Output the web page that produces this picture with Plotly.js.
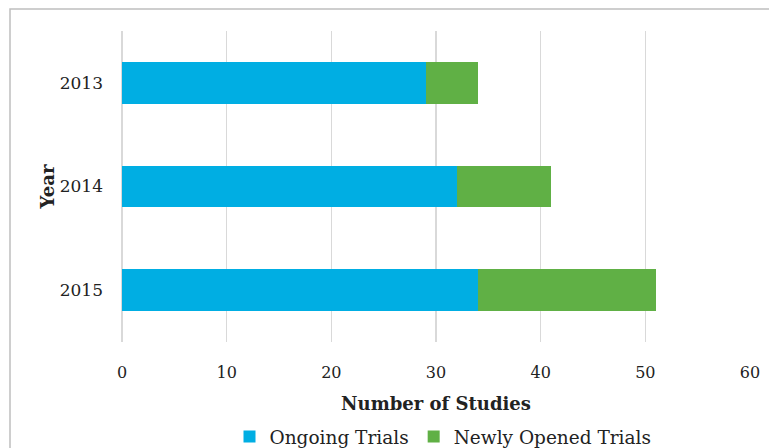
<!DOCTYPE html>
<html>
<head>
<meta charset="utf-8">
<script src="https://cdn.plot.ly/plotly-3.0.1.min.js"></script>
<style>
html,body{margin:0;padding:0;background:#fff;}
#chart{width:769px;height:448px;}
</style>
</head>
<body>
<div id="chart"></div>
<script>
var years = ["2013", "2014", "2015"];
var ongoing = [29, 32, 34];
var newlyOpened = [5, 9, 17];
var seriesNames = ["Ongoing Trials", "Newly Opened Trials"];
var xTicks = [0, 10, 20, 30, 40, 50, 60];

var font = "'DejaVu Serif', 'Liberation Serif', serif";

var traces = [
  {type: "bar", orientation: "h", name: seriesNames[0], y: years, x: ongoing,
   marker: {color: "#00AEE3", line: {width: 0}}, width: 0.4},
  {type: "bar", orientation: "h", name: seriesNames[1], y: years, x: newlyOpened,
   marker: {color: "#60B045", line: {width: 0}}, width: 0.4}
];

var W = 769, H = 448, ml = 122, mr = 19, mt = 31, mb = 106;
var pw = W - ml - mr, ph = H - mt - mb;
function px(x){ return (x - ml) / pw; }
function py(y){ return 1 - (y - mt) / ph; }

var layout = {
  width: W, height: H,
  margin: {l: ml, r: mr, t: mt, b: mb, pad: 0, autoexpand: false},
  barmode: "stack",
  paper_bgcolor: "#fff", plot_bgcolor: "#fff",
  font: {family: font, color: "#222", size: 16},
  showlegend: true,
  legend: {orientation: "h", x: 443 / W, xanchor: "center", xref: "container",
           y: 1 - 437 / H, yanchor: "middle", yref: "container",
           font: {family: font, size: 18.5, color: "#222"},
           traceorder: "normal"},
  xaxis: {range: [0, 60], tickvals: xTicks, ticktext: xTicks.map(String),
          automargin: false,
          showgrid: true, gridcolor: "#d9d9d9", gridwidth: 1.5,
          zeroline: true, zerolinecolor: "#d9d9d9", zerolinewidth: 1.5,
          showline: false, ticks: "", ticklabelstandoff: 19,
          tickfont: {family: font, size: 16, color: "#222"},
          title: {text: "<b>Number of Studies</b>", font: {family: font, size: 18, color: "#222"}, standoff: 16}},
  yaxis: {type: "category", categoryorder: "array", categoryarray: years,
          automargin: false,
          autorange: "reversed", showgrid: false, zeroline: false, showline: false,
          ticks: "", ticklabelstandoff: 18, tickfont: {family: font, size: 17, color: "#222"},
          title: {text: "<b>Year</b>", font: {family: font, size: 18, color: "#222"}, standoff: 0}},
  shapes: [
    {type: "rect", xref: "paper", yref: "paper",
     x0: px(10), x1: px(800), y0: py(9), y1: py(480),
     line: {color: "#bfbfbf", width: 1.5}, fillcolor: "rgba(0,0,0,0)", layer: "below"}
  ]
};

Plotly.newPlot("chart", traces, layout, {displayModeBar: false, staticPlot: true});
</script>
</body>
</html>
